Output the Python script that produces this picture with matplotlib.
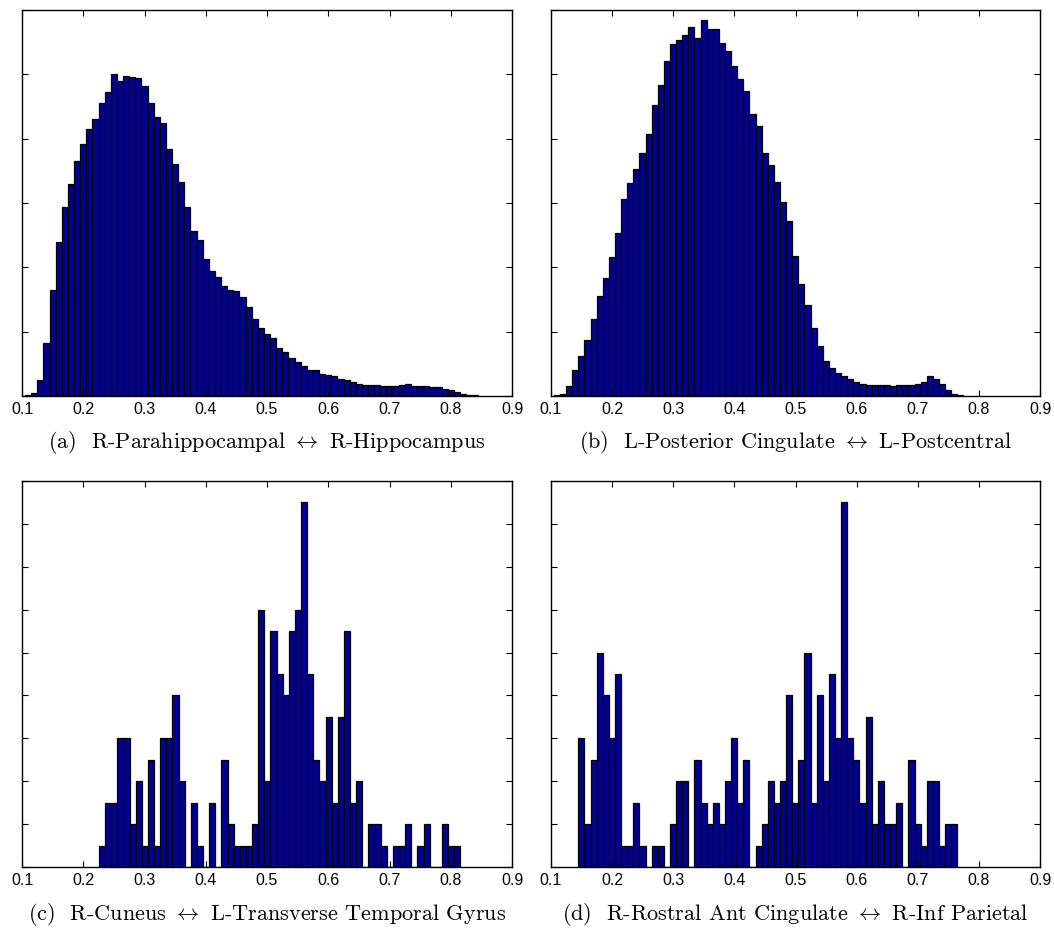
import numpy as np
import matplotlib
matplotlib.use("Agg")
import matplotlib.pyplot as plt

plt.rcParams['mathtext.fontset'] = 'cm'
plt.rcParams['font.family'] = ['Liberation Sans', 'DejaVu Sans']

# histogram counts, bin width 0.01, first bin left edge given per panel
bin_width = 0.01

# (a) smooth histogram, heights in arbitrary counts
a_start = 0.105
a_counts = [20, 47, 244, 824, 1653, 2394, 2938, 3290, 3658, 3912,
            4145, 4306, 4560, 4720, 5000, 4902, 4969, 4964, 4948, 4824,
            4560, 4342, 4249, 3834, 3611, 3321, 2943, 2565, 2430, 2130,
            1948, 1845, 1705, 1642, 1627, 1539, 1378, 1202, 1062, 969,
            907, 751, 684, 596, 528, 461, 409, 399, 347, 321,
            306, 269, 244, 218, 181, 166, 166, 166, 150, 150,
            161, 166, 181, 161, 155, 150, 140, 135, 114, 88,
            62, 36, 21, 10]

# (b)
b_start = 0.1047
b_counts = [20, 36, 150, 409, 627, 876, 1202, 1549, 1829, 2166,
            2539, 3057, 3306, 3534, 3782, 4078, 4518, 4829, 5202, 5466,
            5528, 5611, 5731, 5570, 5850, 5710, 5710, 5482, 5368, 5135,
            4927, 4736, 4389, 4192, 3782, 3591, 3332, 3021, 2715, 2181,
            1746, 1420, 1057, 772, 539, 435, 363, 311, 269, 218,
            192, 166, 166, 166, 166, 155, 166, 166, 166, 181,
            218, 311, 259, 192, 98, 36, 10]

# (c)
c_start = 0.2257
c_counts = [1, 3, 3, 6, 6, 2, 4, 1, 5, 1, 6, 6, 8, 4, 0, 3, 1, 0, 3, 0,
            5, 2, 1, 1, 1, 2, 12, 4, 11, 9, 8, 11, 12, 17, 9, 5, 4, 7, 3, 7,
            11, 3, 4, 0, 2, 2, 1, 0, 1, 1, 2, 0, 1, 2, 0, 0, 2, 1, 1]

# (d)
d_start = 0.1447
d_counts = [6, 2, 5, 10, 8, 6, 9, 1, 1, 3, 1, 0, 1, 1, 0, 2, 4, 4, 0, 5,
            3, 2, 3, 2, 4, 6, 3, 5, 0, 1, 2, 4, 3, 4, 8, 3, 5, 10, 3, 8,
            4, 9, 6, 17, 6, 5, 3, 7, 2, 4, 2, 2, 3, 0, 5, 2, 1, 4, 4, 1,
            2, 2]

captions = [
    r"(a)  R-Parahippocampal $\leftrightarrow$ R-Hippocampus",
    r"(b)  L-Posterior Cingulate $\leftrightarrow$ L-Postcentral",
    r"(c)  R-Cuneus $\leftrightarrow$ L-Transverse Temporal Gyrus",
    r"(d)  R-Rostral Ant Cingulate $\leftrightarrow$ R-Inf Parietal",
]
x_ticks = [0.1, 0.2, 0.3, 0.4, 0.5, 0.6, 0.7, 0.8, 0.9]

panels = [
    (a_start, a_counts, 6000, 1000),
    (b_start, b_counts, 6000, 1000),
    (c_start, c_counts, 18, 2),
    (d_start, d_counts, 18, 2),
]

fig = plt.figure(figsize=(10.54, 9.32), dpi=100)

W, H = 1054.0, 932.0
lefts = [22, 551, 22, 551]
tops = [10, 10, 481, 481]
widths = [490, 489, 490, 489]
ax_h = 386

for i, (start, counts, ymax, ystep) in enumerate(panels):
    ax = fig.add_axes([lefts[i] / W, 1 - (tops[i] + ax_h) / H,
                       widths[i] / W, ax_h / H])
    edges = start + bin_width * np.arange(len(counts))
    ax.bar(edges, counts, width=bin_width, align='edge',
           color='#000090', edgecolor='black', linewidth=0.9)
    ax.set_xlim(0.1, 0.9)
    ax.set_ylim(0, ymax)
    ax.set_xticks(x_ticks)
    ax.set_xticklabels([f"{t:.1f}" for t in x_ticks])
    ax.set_yticks(np.arange(0, ymax + 1, ystep))
    ax.tick_params(direction='in', top=True, right=True, labelleft=False,
                   length=4, width=0.8, labelsize=11.5, pad=4)
    for sp in ax.spines.values():
        sp.set_linewidth(1.0)
    cx = (lefts[i] + widths[i] / 2) / W
    cy = 1 - (tops[i] + ax_h + 47) / H
    fig.text(cx, cy, captions[i], ha='center', va='center',
             fontfamily='cmr10', fontsize=16)

fig.savefig("out.png", dpi=100)
